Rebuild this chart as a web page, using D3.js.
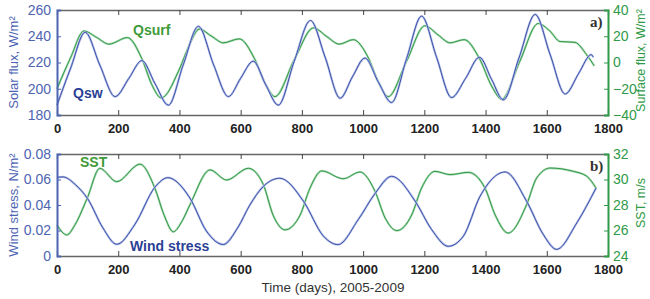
<!DOCTYPE html>
<html>
<head>
<meta charset="utf-8">
<script src="https://cdn.jsdelivr.net/npm/d3@7"></script>
<style>
  body { margin: 0; background: #fff; }
  svg { display: block; font-family: Arial, "Liberation Sans", sans-serif; }
</style>
</head>
<body>
<div id="chart"></div>
<script>
// ---- data (day, value) ----
var qswDays = [0, 45, 92, 140, 190, 235, 277, 320, 364, 412, 462, 512, 560, 600, 641, 682, 723, 775, 828, 876, 925, 965, 1006, 1050, 1093, 1142, 1191, 1240, 1289, 1335, 1380, 1420, 1458, 1510, 1562, 1611, 1660, 1705, 1745, 1752];
var qswVals = [187.5, 216, 243, 218, 194, 208, 221.5, 204, 187.5, 218, 247.5, 218, 194, 208, 221, 203, 187.5, 221, 252, 224, 192.8, 209, 223.4, 205, 189.5, 223, 255.3, 224, 193.3, 208, 224, 207, 191.5, 224, 256.6, 226, 196, 212, 226, 224];

var qsurfDays = [0, 45, 88, 130, 170, 230, 277, 310, 340, 400, 430, 465, 505, 543, 595, 645, 680, 712, 775, 838, 880, 922, 968, 1017, 1050, 1082, 1142, 1202, 1245, 1284, 1330, 1380, 1420, 1453, 1512, 1572, 1610, 1643, 1692, 1730, 1755];
var qsurfVals = [-20, 4, 24, 19, 14, 19, 3, -17, -27, -5, 12, 25.5, 20, 15, 18, 3, -16, -26, 2, 26.4, 20, 14, 17.4, 3.6, -15, -26, 1, 28, 21, 15, 17.4, 3, -18, -28, 1, 29.7, 24, 16, 15.4, 6, -2.5];

var tauDays = [0, 20, 60, 100, 150, 195, 255, 320, 362, 434, 488, 543, 590, 630, 674, 728, 805, 870, 918, 984, 1039, 1093, 1170, 1224, 1278, 1327, 1382, 1464, 1534, 1589, 1632, 1698, 1761];
var tauVals = [0.0617, 0.062, 0.056, 0.045, 0.022, 0.0092, 0.025, 0.054, 0.0614, 0.0455, 0.0196, 0.009, 0.022, 0.040, 0.0546, 0.061, 0.043, 0.0157, 0.0089, 0.0285, 0.049, 0.0625, 0.043, 0.0207, 0.0076, 0.0154, 0.0468, 0.0659, 0.043, 0.0167, 0.0052, 0.0259, 0.0533];

var sstDays = [0, 32, 60, 99, 140, 195, 271, 320, 350, 380, 410, 434, 500, 554, 625, 674, 706, 745, 794, 826, 865, 935, 990, 1039, 1072, 1110, 1159, 1191, 1235, 1284, 1344, 1398, 1431, 1474, 1534, 1567, 1611, 1687, 1731, 1761];
var sstVals = [26.43, 25.65, 26.5, 28.55, 30.88, 29.83, 31.2, 29.3, 27.2, 25.9, 26.8, 28.0, 30.75, 29.96, 30.88, 29.6, 27.2, 26.05, 27.2, 29.3, 30.67, 30.06, 30.59, 29.07, 26.98, 25.99, 27.24, 29.33, 30.64, 30.38, 30.56, 29.33, 27.24, 25.8, 28.02, 30.12, 30.9, 30.64, 30.25, 29.33];

var xTicks = [0, 200, 400, 600, 800, 1000, 1200, 1400, 1600, 1800];
var solarTicks = [180, 200, 220, 240, 260];
var surfTicks = [-40, -20, 0, 20, 40];
var tauTicks = [0, 0.02, 0.04, 0.06, 0.08];
var sstTicks = [24, 26, 28, 30, 32];

var W = 650, H = 299;
var left = 57, right = 608;
var blue = "#2f44a2", blueHalo = "#b3bfe6", blueAxis = "#4d64b2";
var green = "#22903c", greenHalo = "#acdab5", greenAxis = "#2f9a48";

var svg = d3.select("#chart").append("svg").attr("width", W).attr("height", H);

var x = d3.scaleLinear().domain([0, 1800]).range([left, right]);

function zip(a, b) { return a.map(function (d, i) { return [d, b[i]]; }); }

function panel(top, bottom, yL, yR, tL, tR, fmtL, fmtR, sL, sR, titleL, titleR, tag) {
  var g = svg.append("g");

  // curves
  var lineL = d3.line().x(function (d) { return x(d[0]); }).y(function (d) { return yL(d[1]); }).curve(d3.curveMonotoneX);
  var lineR = d3.line().x(function (d) { return x(d[0]); }).y(function (d) { return yR(d[1]); }).curve(d3.curveMonotoneX);

  g.append("path").attr("d", lineR(sR)).attr("fill", "none").attr("stroke", greenHalo).attr("stroke-width", 2.2);
  g.append("path").attr("d", lineR(sR)).attr("fill", "none").attr("stroke", green).attr("stroke-width", 0.9);
  g.append("path").attr("d", lineL(sL)).attr("fill", "none").attr("stroke", blueHalo).attr("stroke-width", 2.2);
  g.append("path").attr("d", lineL(sL)).attr("fill", "none").attr("stroke", blue).attr("stroke-width", 0.9);

  // top / bottom frame with inward ticks
  var xb = g.append("g").attr("transform", "translate(0," + bottom + ")")
    .call(d3.axisBottom(x).tickValues(xTicks).tickSize(-5).tickPadding(9).tickFormat(d3.format("d")));
  xb.select(".domain").attr("stroke", "#666").attr("stroke-width", 1.3);
  xb.selectAll(".tick line").attr("stroke", "#444");
  xb.selectAll("text").attr("font-size", 13).attr("font-weight", "bold").attr("fill", "#222");

  var xt = g.append("g").attr("transform", "translate(0," + top + ")")
    .call(d3.axisTop(x).tickValues(xTicks).tickSize(-5).tickFormat(""));
  xt.select(".domain").attr("stroke", "#666").attr("stroke-width", 1.3);
  xt.selectAll(".tick line").attr("stroke", "#444");

  // left axis
  var al = g.append("g").attr("transform", "translate(" + left + ",0)")
    .call(d3.axisLeft(yL).tickValues(tL).tickSize(-4).tickPadding(6).tickFormat(fmtL));
  al.select(".domain").attr("stroke", blueAxis).attr("stroke-width", 2);
  al.selectAll(".tick line").attr("stroke", blueAxis);
  al.selectAll("text").attr("font-size", 14).attr("fill", blueAxis);

  // right axis
  var ar = g.append("g").attr("transform", "translate(" + right + ",0)")
    .call(d3.axisRight(yR).tickValues(tR).tickSize(-4).tickPadding(5).tickFormat(fmtR));
  ar.select(".domain").attr("stroke", greenAxis).attr("stroke-width", 2);
  ar.selectAll(".tick line").attr("stroke", greenAxis);
  ar.selectAll("text").attr("font-size", 14).attr("fill", greenAxis);

  var mid = (top + bottom) / 2;
  g.append("text").attr("transform", "translate(18," + mid + ") rotate(-90)")
    .attr("text-anchor", "middle").attr("font-size", 13).attr("fill", blueAxis).text(titleL);
  g.append("text").attr("transform", "translate(645," + (mid - 2) + ") rotate(-90)")
    .attr("text-anchor", "middle").attr("font-size", 12.5).attr("fill", greenAxis).text(titleR);

  g.append("text").attr("x", 590).attr("y", top + 17).attr("font-family", "'Liberation Serif', serif")
    .attr("font-weight", "bold").attr("font-size", 15).attr("fill", "#333").text(tag);
  return g;
}

var yQsw = d3.scaleLinear().domain([180, 260]).range([115, 10]);
var yQsurf = d3.scaleLinear().domain([-40, 40]).range([115, 10]);
var p1 = panel(10, 115, yQsw, yQsurf, solarTicks, surfTicks, d3.format("d"), d3.format("d"),
  zip(qswDays, qswVals), zip(qsurfDays, qsurfVals), "Solar flux, W/m\u00b2", "Surface flux, W/m\u00b2", "a)");

var yTau = d3.scaleLinear().domain([0, 0.08]).range([256, 154]);
var ySst = d3.scaleLinear().domain([24, 32]).range([256, 154]);
var p2 = panel(154, 256, yTau, ySst, tauTicks, sstTicks, function (d) { return d === 0 ? "0" : d3.format(".2f")(d); }, d3.format("d"),
  zip(tauDays, tauVals), zip(sstDays, sstVals), "Wind stress, N/m\u00b2", "SST, m/s", "b)");

// series labels
p1.append("text").attr("x", 133).attr("y", 35).attr("font-size", 14).attr("font-weight", "bold").attr("fill", "#3f9a3a").text("Qsurf");
p1.append("text").attr("x", 73).attr("y", 98).attr("font-size", 14).attr("font-weight", "bold").attr("fill", "#2c3f96").text("Qsw");
p2.append("text").attr("x", 80).attr("y", 167).attr("font-size", 14).attr("font-weight", "bold").attr("fill", "#3f9a3a").text("SST");
p2.append("text").attr("x", 130).attr("y", 251).attr("font-size", 14).attr("font-weight", "bold").attr("fill", "#2c3f96").text("Wind stress");

svg.append("text").attr("x", 333).attr("y", 292).attr("text-anchor", "middle")
  .attr("font-size", 13.5).attr("fill", "#333").text("Time (days), 2005-2009");
</script>
</body>
</html>
